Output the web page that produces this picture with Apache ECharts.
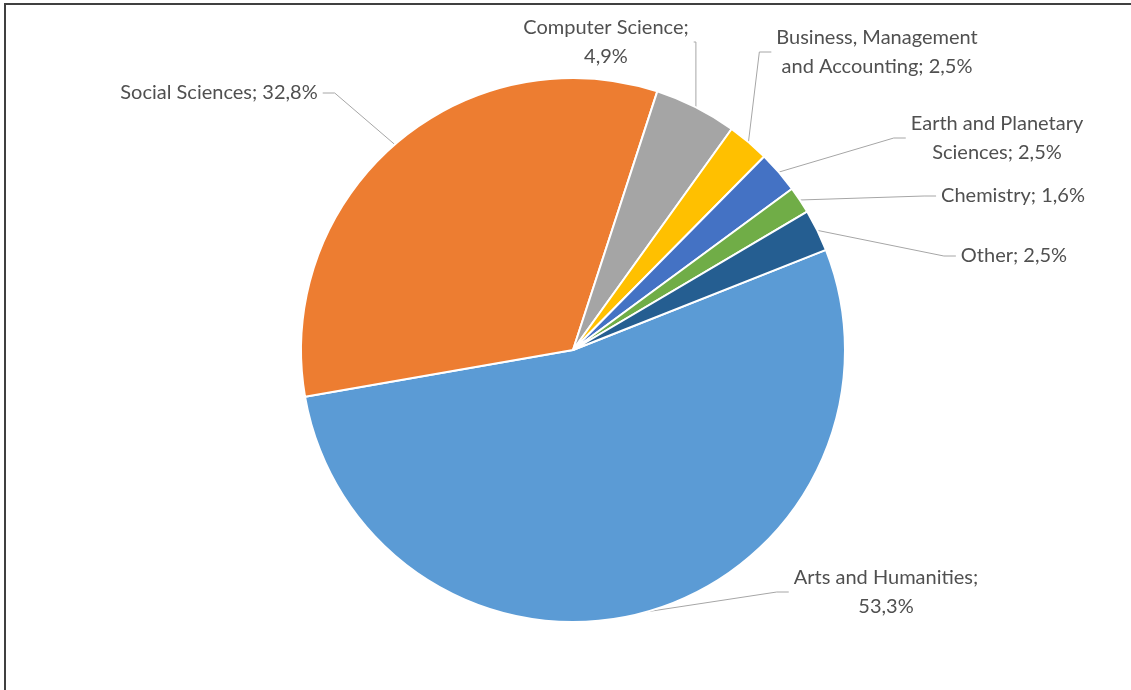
<!DOCTYPE html>
<html>
<head>
    <meta charset="UTF-8">
    <title>Subject areas</title>
    <script src="https://cdn.jsdelivr.net/npm/echarts@6/dist/echarts.min.js"></script>
    <style>
        html, body { margin: 0; padding: 0; background: #fff; }
        #pie { width: 1131px; height: 690px; }
    </style>
</head>
<body>
<div id="pie"></div>
<script>
    // data
    var categories = ['Arts and Humanities', 'Social Sciences', 'Computer Science',
        'Business, Management and Accounting', 'Earth and Planetary Sciences', 'Chemistry', 'Other'];
    var values = [53.3, 32.8, 4.9, 2.5, 2.5, 1.6, 2.5];
    var colors = ['#5B9BD5', '#ED7D31', '#A5A5A5', '#FFC000', '#4472C4', '#70AD47', '#255E91'];
    // where the label text wraps (text before the break)
    var breakAfter = ['Humanities;', null, 'Science;', 'Management', 'Planetary', null, null];
    // label centres, like Excel put them by hand
    var labelPos = [[886, 592], [219, 93], [606, 42], [877, 52], [997, 138], [1013, 196], [1014, 256]];

    var seriesData = [];
    for (var i = 0; i < categories.length; i++) {
        seriesData.push({name: categories[i], value: values[i], itemStyle: {color: colors[i]}});
    }

    var myChart = echarts.init(document.getElementById('pie'));
    var option = {
        animation: false,
        graphic: [{
            type: 'rect',
            shape: {x: 5, y: 4, width: 1140, height: 700},
            style: {fill: 'none', stroke: '#404040', lineWidth: 2},
            silent: true
        }],
        series: [{
            type: 'pie',
            center: [573, 350],
            radius: 272,
            startAngle: 21.6,
            clockwise: true,
            avoidLabelOverlap: false,
            itemStyle: {borderColor: '#fff', borderWidth: 2},
            label: {
                show: true,
                position: 'outside',
                color: '#505050',
                fontFamily: 'Lato',
                fontSize: 20,
                lineHeight: 29,
                padding: [0, 5],
                formatter: function (p) {
                    var txt = p.name + '; ' + p.value.toFixed(1).replace('.', ',') + '%';
                    var b = breakAfter[p.dataIndex];
                    if (b) {
                        txt = txt.replace(b + ' ', b + '\n');
                    }
                    return txt;
                }
            },
            labelLine: {
                show: true,
                length: 20,
                length2: 12,
                lineStyle: {color: '#A6A6A6', width: 1}
            },
            labelLayout: function (params) {
                var pos = labelPos[params.dataIndex];
                return {x: pos[0], y: pos[1], align: 'center', verticalAlign: 'middle', hideOverlap: false};
            },
            emphasis: {disabled: true},
            data: seriesData
        }]
    };
    myChart.setOption(option);
</script>
</body>
</html>
